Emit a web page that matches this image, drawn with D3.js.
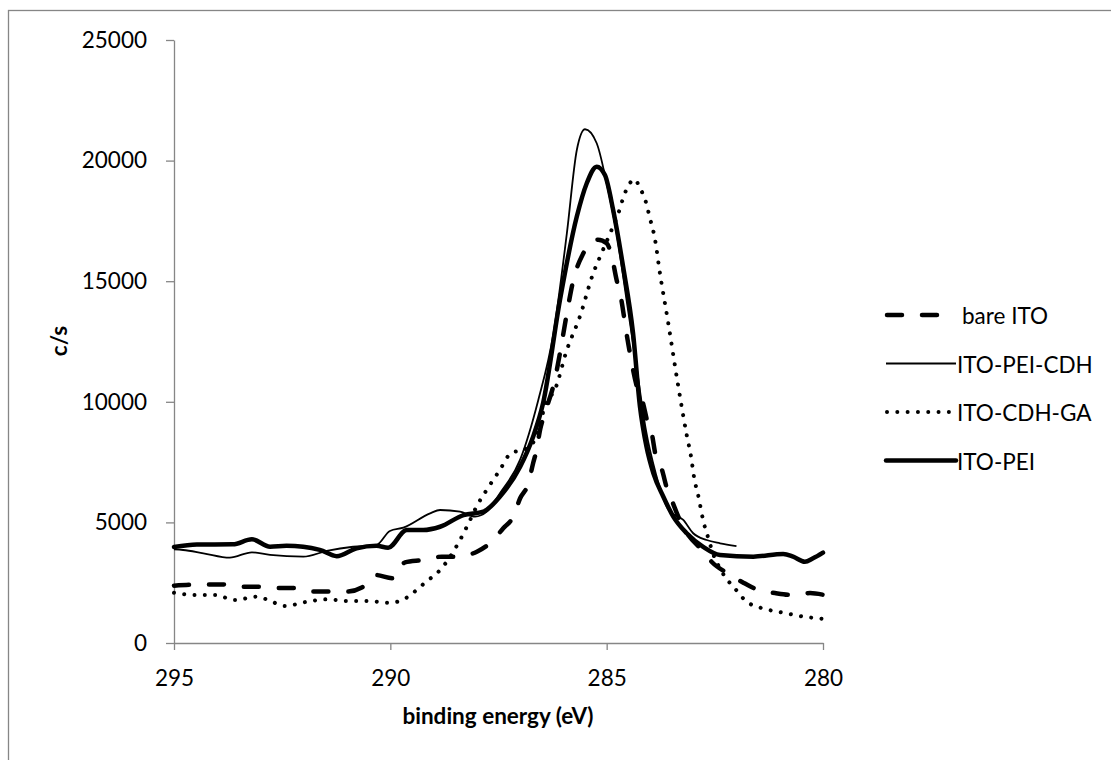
<!DOCTYPE html>
<html>
<head>
<meta charset="utf-8">
<script src="https://cdn.jsdelivr.net/npm/d3@7"></script>
<style>
  html, body { margin: 0; padding: 0; background: #fff; }
  svg { display: block; }
  text { font-family: Lato, "Open Sans", sans-serif; fill: #000; }
</style>
</head>
<body>
<svg id="chart" width="1111" height="760"></svg>
<script>
// ---- data (binding energy in eV, intensity in c/s) ----
const seriesNames = ["bare ITO", "ITO-PEI-CDH", "ITO-CDH-GA", "ITO-PEI"];
const xTickValues = [295, 290, 285, 280];
const yTickValues = [0, 5000, 10000, 15000, 20000, 25000];

const bareITO_eV  = [295.00,294.33,293.87,293.47,293.06,292.67,292.25,291.81,291.39,291.00,290.66,290.35,289.94,289.66,289.25,288.81,288.47,288.00,287.70,287.39,287.16,287.00,286.81,286.70,286.62,286.54,286.43,286.20,286.08,285.92,285.77,285.54,285.35,285.20,285.00,284.88,284.77,284.69,284.51,284.28,284.16,284.07,283.95,283.88,283.72,283.61,283.47,283.31,283.14,282.80,282.57,282.22,281.87,281.50,281.11,280.70,280.30,280.00];
const bareITO_cps = [2375,2430,2430,2335,2330,2280,2280,2130,2130,2130,2300,2820,2680,3345,3440,3580,3580,3785,4135,4755,5240,6000,6620,7450,8000,8830,9525,10900,12010,13670,15050,16155,16640,16720,16570,16015,15050,14500,12500,10490,9950,9245,8620,7880,7170,6425,5800,5100,4550,3855,3360,2900,2530,2200,2070,1990,2070,2000];

const peiCdh_eV  = [295.00,294.79,294.32,293.71,293.20,292.78,292.01,291.47,290.86,290.32,290.01,289.70,289.08,288.85,288.39,288.04,287.77,287.47,287.00,286.58,286.23,285.92,285.69,285.50,285.23,285.00,284.77,284.54,284.31,284.09,283.86,283.54,283.23,283.00,282.69,282.38,282.00];
const peiCdh_cps = [3880,3855,3720,3540,3760,3650,3580,3815,3990,4060,4645,4780,5375,5515,5445,5240,5445,6200,7600,10075,12840,16985,20440,21300,20720,19060,16985,14220,11455,8800,7000,5445,5100,4550,4270,4135,4020];

const cdhGa_eV  = [295.00,294.51,294.05,293.59,293.09,292.86,292.43,291.93,291.47,290.97,290.51,290.05,289.78,289.39,289.20,288.85,288.43,288.20,288.00,287.74,287.47,287.20,286.93,286.66,286.39,286.20,285.92,285.62,285.31,285.12,284.92,284.73,284.58,284.35,284.23,284.12,284.00,283.88,283.78,283.58,283.35,283.15,283.05,282.98,282.87,282.78,282.65,282.50,282.38,282.27,282.07,281.76,281.30,280.84,280.34,280.11,280.00];
const cdhGa_cps = [2080,1990,1990,1780,1920,1810,1535,1710,1810,1740,1740,1670,1740,2200,2500,3025,4135,4935,5680,6440,7170,7890,8000,8415,10005,10490,12150,13530,15330,16155,16985,17815,18645,19225,18850,18435,17610,16710,15465,13300,10695,8625,7725,6870,6000,5170,4340,3510,3095,2750,2335,1710,1395,1230,1065,1025,1000];

const pei_eV  = [295.00,294.47,293.64,293.20,292.78,292.40,291.63,291.24,290.78,290.32,290.05,289.62,289.24,288.85,288.31,287.85,287.47,287.00,286.70,286.47,286.08,285.69,285.46,285.23,285.04,284.85,284.62,284.39,284.23,284.08,283.92,283.69,283.46,283.15,282.77,282.38,281.61,280.92,280.69,280.42,280.23,280.00];
const pei_cps = [3980,4080,4090,4300,3990,4030,3860,3600,3925,4030,3950,4685,4685,4820,5305,5445,6065,7310,8555,9940,14220,17680,19060,19750,19400,17950,15600,12840,9800,8140,7035,6065,5240,4550,3990,3650,3580,3690,3580,3370,3510,3745];

// ---- layout / styles ----
const svg = d3.select("#chart");
const axisColor = "#868686";
const fontSize = 22.5;

// outer chart-area border (only top/left edges fall inside the picture)
svg.append("rect").attr("x", 8.5).attr("y", 10.5).attr("width", 1200).attr("height", 800)
  .attr("fill", "none").attr("stroke", axisColor).attr("stroke-width", 1.3);

const x = d3.scaleLinear().domain([295, 280]).range([174, 823]);
const y = d3.scaleLinear().domain([0, 25000]).range([643, 40]);

const styles = [
  { width: 4.5, dash: "15,20", cap: "round" },   // bare ITO
  { width: 1.8, dash: null, cap: "butt" },        // ITO-PEI-CDH
  { width: 4, dash: "0.01,10.3", cap: "round" },  // ITO-CDH-GA
  { width: 4.5, dash: null, cap: "round" }        // ITO-PEI
];

const series = [
  bareITO_eV.map((e, i) => [e, bareITO_cps[i]]),
  peiCdh_eV.map((e, i) => [e, peiCdh_cps[i]]),
  cdhGa_eV.map((e, i) => [e, cdhGa_cps[i]]),
  pei_eV.map((e, i) => [e, pei_cps[i]])
];

// axes
const xAxis = d3.axisBottom(x).tickValues(xTickValues).tickFormat(d3.format("d"))
  .tickSize(7).tickSizeOuter(0).tickPadding(20);
const gx = svg.append("g").attr("transform", "translate(0,643)").call(xAxis);

const yAxis = d3.axisLeft(y).tickValues(yTickValues).tickFormat(d3.format("d"))
  .tickSize(8).tickSizeOuter(0).tickPadding(19);
const gy = svg.append("g").attr("transform", "translate(174,0)").call(yAxis);

[gx, gy].forEach(g => {
  g.select(".domain").attr("stroke", axisColor).attr("stroke-width", 1.3);
  g.selectAll(".tick line").attr("stroke", axisColor).attr("stroke-width", 1.3);
  g.selectAll(".tick text").attr("font-family", "Lato, 'Open Sans', sans-serif")
    .attr("font-size", fontSize).attr("fill", "#000");
});

// lines
const line = d3.line().x(d => x(d[0])).y(d => y(d[1])).curve(d3.curveMonotoneX);
series.forEach((s, i) => {
  const st = styles[i];
  const p = svg.append("path").datum(s).attr("d", line)
    .attr("fill", "none").attr("stroke", "#000")
    .attr("stroke-width", st.width).attr("stroke-linecap", st.cap)
    .attr("stroke-linejoin", "round");
  if (st.dash) p.attr("stroke-dasharray", st.dash);
});

// axis titles
svg.append("text").attr("x", 498).attr("y", 724).attr("text-anchor", "middle")
  .attr("font-size", fontSize).attr("font-weight", "bold").text("binding energy (eV)");
svg.append("text").attr("transform", "translate(67,341) rotate(-90)").attr("text-anchor", "middle")
  .attr("font-size", fontSize).attr("font-weight", "bold").text("c/s");

// legend
const legendY = [315, 363.5, 412, 460.5];
const legendLineEnd = [940, 956, 950, 956];
const legendTextX = [962, 957, 957, 957];
seriesNames.forEach((name, i) => {
  const st = styles[i];
  const l = svg.append("line").attr("x1", i === 0 ? 887 : (i === 2 ? 887 : 886))
    .attr("x2", i === 0 ? 938 : legendLineEnd[i])
    .attr("y1", legendY[i]).attr("y2", legendY[i])
    .attr("stroke", "#000").attr("stroke-width", st.width).attr("stroke-linecap", st.cap);
  if (st.dash) l.attr("stroke-dasharray", st.dash);
  svg.append("text").attr("x", legendTextX[i]).attr("y", legendY[i] + 9)
    .attr("font-size", fontSize).text(name);
});
</script>
</body>
</html>
